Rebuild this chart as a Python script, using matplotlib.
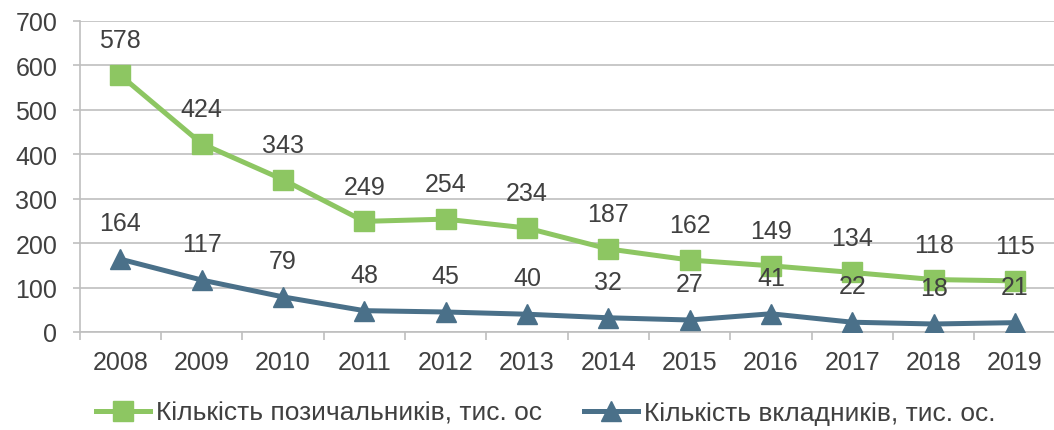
import matplotlib
matplotlib.use("Agg")
import matplotlib.pyplot as plt
import numpy as np

years = ["2008", "2009", "2010", "2011", "2012", "2013", "2014", "2015", "2016", "2017", "2018", "2019"]
borrowers = [578, 424, 343, 249, 254, 234, 187, 162, 149, 134, 118, 115]
depositors = [164, 117, 79, 48, 45, 40, 32, 27, 41, 22, 18, 21]
label_borrowers = "Кількість позичальників, тис. ос"
label_depositors = "Кількість вкладників, тис. ос."

plt.rcParams['font.family'] = ['Liberation Sans', 'DejaVu Sans']
text_color = '#404040'
green = '#8dc662'
blue = '#4a7089'
grid_color = '#bfbfbf'
fs = 18

fig = plt.figure(figsize=(10.54, 4.31), dpi=100)
ax = fig.add_axes([0.0755, 0.2274, 0.926, 0.7216])

x = np.arange(len(years))
ax.plot(x, borrowers, color=green, lw=3.6, marker='s', ms=14, label=label_borrowers, zorder=3)
ax.plot(x, depositors, color=blue, lw=3.6, marker='^', ms=15, label=label_depositors, zorder=3)

for xi, v in zip(x, borrowers):
    ax.annotate(str(v), (xi, v), xytext=(0, 25), textcoords='offset points',
                ha='center', va='center', fontsize=fs, color=text_color, zorder=4)
for xi, v in zip(x, depositors):
    ax.annotate(str(v), (xi, v), xytext=(0, 26), textcoords='offset points',
                ha='center', va='center', fontsize=fs, color=text_color, zorder=4)

ax.set_xlim(-0.5, len(years) - 0.5)
ax.set_ylim(0, 700)
ax.set_yticks(np.arange(0, 701, 100))
ax.set_xticks(x)
ax.set_xticklabels(years)
ax.set_xticks(np.arange(-0.5, len(years), 1), minor=True)
ax.tick_params(axis='x', which='major', length=0, pad=13, labelsize=fs, labelcolor=text_color)
ax.tick_params(axis='x', which='minor', length=6, width=1.2, color=grid_color)
ax.tick_params(axis='y', length=5, width=1.2, color=grid_color, pad=11, labelsize=fs, labelcolor=text_color)
ax.grid(axis='y', color=grid_color, lw=1.2, zorder=0)
for s in ['top', 'right']:
    ax.spines[s].set_visible(False)
for s in ['left', 'bottom']:
    ax.spines[s].set_color(grid_color)
    ax.spines[s].set_linewidth(1.2)
ax.set_axisbelow(True)

leg = fig.legend(loc='center', bbox_to_anchor=(0.518, 0.04), ncol=2, frameon=False,
                 fontsize=19, handlelength=2.05, handletextpad=0.22, columnspacing=1.6,
                 labelcolor=text_color)

fig.savefig("out.png", dpi=100)
